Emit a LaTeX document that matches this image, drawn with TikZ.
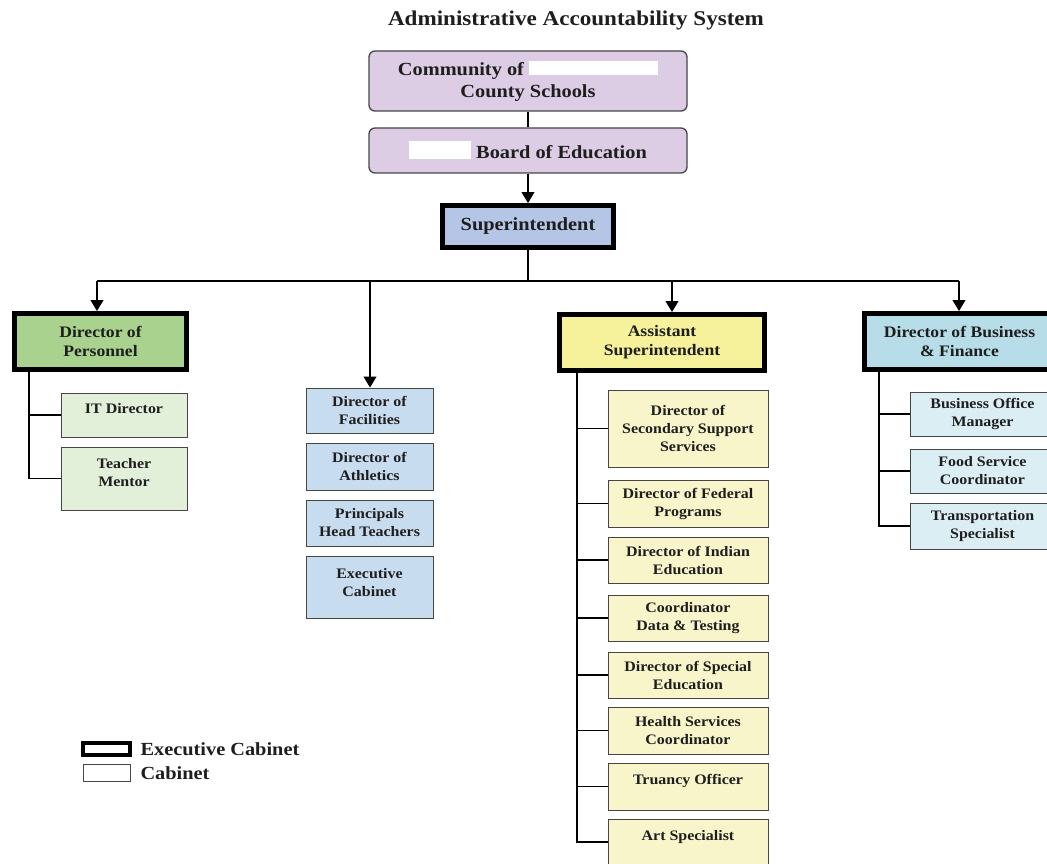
\documentclass[tikz,border=0pt]{standalone}
\usepackage{fontspec}
\setmainfont{Liberation Serif}[FakeStretch=1.1]
\usepackage{xcolor}
\usetikzlibrary{positioning, arrows.meta}

\definecolor{ink}{RGB}{30,30,30}
\definecolor{edgegray}{RGB}{70,70,70}
\definecolor{lavender}{RGB}{220,204,228}
\definecolor{supblue}{RGB}{180,197,230}
\definecolor{persgreen}{RGB}{168,210,142}
\definecolor{persmint}{RGB}{226,239,217}
\definecolor{facblue}{RGB}{200,220,240}
\definecolor{asstyellow}{RGB}{246,241,155}
\definecolor{asstcream}{RGB}{248,245,202}
\definecolor{finblue}{RGB}{183,221,232}
\definecolor{finpale}{RGB}{219,238,244}

\newcommand{\bigtxt}{\bfseries\fontsize{18.5}{22}\selectfont}
\newcommand{\midtxt}{\bfseries\fontsize{16}{19}\selectfont}
\newcommand{\smalltxt}{\bfseries\fontsize{14.5}{18}\selectfont}

\begin{document}
\begin{tikzpicture}[
    x=1pt, y=-1pt,
    every node/.style={text=ink},
    topbox/.style={draw=edgegray, line width=1.3pt, rounded corners=6pt, fill=lavender, minimum width=318pt, align=center, font=\bigtxt},
    execbox/.style={draw=black, line width=5pt, align=center, inner sep=0pt, font=\midtxt},
    unitbox/.style={draw=edgegray, line width=1pt, align=center, inner sep=0pt, font=\smalltxt},
    link/.style={line width=1.1pt, draw=black},
    arrow/.style={link, -{Triangle[width=13pt, length=11pt]}}
]
    \useasboundingbox (0,0) rectangle (1047,864);

    \node[font=\bfseries\fontsize{21}{24}\selectfont] (title) at (576,20) {Administrative Accountability System};

    % governance
    \node[topbox, minimum height=60pt] (community) at (528,81) {Community of \textcolor{white}{\rule{129pt}{14pt}}\\County Schools};
    \node[topbox, minimum height=45pt] (board) at (528,150.5) {\textcolor{white}{\rule[-1pt]{62pt}{18pt}} Board of Education};
    \node[execbox, fill=supblue, minimum width=171pt, minimum height=42pt, font=\bigtxt] (super) at (528,226.5) {Superintendent};

    \draw[link] (community) -- (board);
    \draw[arrow] (board) -- (super);

    % bus to the four branches
    \coordinate (bus) at (528,281);
    \coordinate (busW) at (97,281);
    \coordinate (busF) at (370,281);
    \coordinate (busA) at (672,281);
    \coordinate (busE) at (959,281);
    \draw[link] (super) -- (bus);
    \draw[link] (busW) -- (busE);

    % Personnel
    \node[execbox, fill=persgreen, minimum width=172pt, minimum height=56pt] (personnel) at (100.5,341.5) {Director of\\Personnel};
    \node[unitbox, fill=persmint, minimum width=126pt, minimum height=44pt, text depth=14pt] (itdir) at (124,415) {IT Director};
    \node[unitbox, fill=persmint, minimum width=126pt, minimum height=63pt, text depth=12pt] (mentor) at (124,478.5) {Teacher\\Mentor};
    \coordinate (pspine) at (29,372);
    \draw[arrow] (busW) -- (busW |- personnel.north);
    \draw[link] (pspine) |- (mentor);
    \draw[link] (pspine |- itdir) -- (itdir);

    % Facilities column
    \node[unitbox, fill=facblue, minimum width=127pt, minimum height=45pt] (facilities) at (369.5,410.5) {Director of\\Facilities};
    \node[unitbox, fill=facblue, minimum width=127pt, minimum height=47pt] (athletics) at (369.5,466.5) {Director of\\Athletics};
    \node[unitbox, fill=facblue, minimum width=127pt, minimum height=46pt] (principals) at (369.5,523) {Principals\\Head Teachers};
    \node[unitbox, fill=facblue, minimum width=127pt, minimum height=62pt, text depth=10pt] (execcab) at (369.5,587) {Executive\\Cabinet};
    \draw[arrow] (busF) -- (busF |- facilities.north);

    % Assistant Superintendent
    \node[execbox, fill=asstyellow, minimum width=205pt, minimum height=56pt] (asst) at (662,342.5) {Assistant\\Superintendent};
    \node[unitbox, fill=asstcream, minimum width=160pt, minimum height=77pt] (secondary) at (688,428.5) {Director of\\Secondary Support\\Services};
    \node[unitbox, fill=asstcream, minimum width=160pt, minimum height=47pt] (federal) at (688,503.5) {Director of Federal\\Programs};
    \node[unitbox, fill=asstcream, minimum width=160pt, minimum height=46pt] (indian) at (688,560) {Director of Indian\\Education};
    \node[unitbox, fill=asstcream, minimum width=160pt, minimum height=46pt] (testing) at (688,618) {Coordinator\\Data \& Testing};
    \node[unitbox, fill=asstcream, minimum width=160pt, minimum height=46pt] (special) at (688,675) {Director of Special\\Education};
    \node[unitbox, fill=asstcream, minimum width=160pt, minimum height=47pt] (health) at (688,730.5) {Health Services\\Coordinator};
    \node[unitbox, fill=asstcream, minimum width=160pt, minimum height=47pt, text depth=15pt] (truancy) at (688,786.5) {Truancy Officer};
    \node[unitbox, fill=asstcream, minimum width=160pt, minimum height=46pt, text depth=13pt] (art) at (688,842) {Art Specialist};
    \coordinate (aspine) at (577,373);
    \draw[arrow] (busA) -- (busA |- asst.north);
    \draw[link] (aspine) |- (art);
    \draw[link] (aspine |- secondary) -- (secondary);
    \draw[link] (aspine |- federal) -- (federal);
    \draw[link] (aspine |- indian) -- (indian);
    \draw[link] (aspine |- testing) -- (testing);
    \draw[link] (aspine |- special) -- (special);
    \draw[link] (aspine |- health) -- (health);
    \draw[link] (aspine |- truancy) -- (truancy);

    % Business & Finance
    \node[execbox, fill=finblue, minimum width=190pt, minimum height=56pt] (finance) at (959.5,341.5) {Director of Business\\\& Finance};
    \node[unitbox, fill=finpale, minimum width=145pt, minimum height=44pt] (office) at (982.5,414) {Business Office\\Manager};
    \node[unitbox, fill=finpale, minimum width=145pt, minimum height=44pt] (food) at (982.5,471) {Food Service\\Coordinator};
    \node[unitbox, fill=finpale, minimum width=145pt, minimum height=46pt] (transport) at (982.5,526) {Transportation\\Specialist};
    \coordinate (fspine) at (879,372);
    \draw[arrow] (busE) -- (busE |- finance.north);
    \draw[link] (fspine) |- (transport);
    \draw[link] (fspine |- office) -- (office);
    \draw[link] (fspine |- food) -- (food);

    % legend
    \node[draw=black, line width=4pt, minimum width=47pt, minimum height=12pt, inner sep=0pt] (legexec) at (106.5,749) {};
    \node[draw=edgegray, line width=1pt, minimum width=47pt, minimum height=17pt, inner sep=0pt] (legcab) at (107,773) {};
    \node[right=5pt of legexec, font=\bigtxt] (legexectxt) {Executive Cabinet};
    \node[right=6pt of legcab, font=\bigtxt] (legcabtxt) {Cabinet};
\end{tikzpicture}
\end{document}
